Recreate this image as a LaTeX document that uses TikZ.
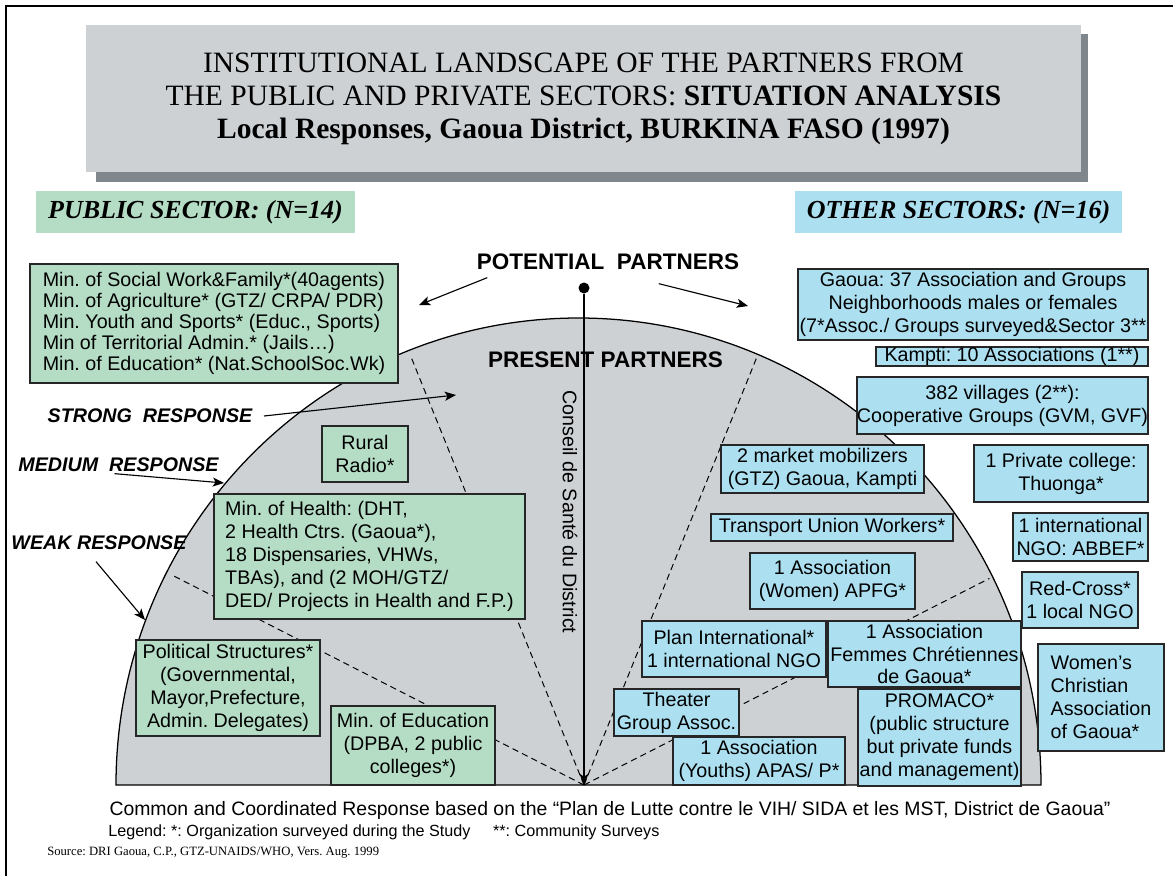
\documentclass[tikz,border=0pt]{standalone}
\usepackage{fontspec}
\setmainfont{Liberation Sans}
\newfontfamily\seriffont{Liberation Serif}
\usetikzlibrary{arrows.meta}
\frenchspacing
\newcommand{\px}{0.025cm}
\definecolor{panelgray}{HTML}{CDD1D4}
\definecolor{shadowgray}{HTML}{80878C}
\definecolor{publicgreen}{HTML}{B5DDC5}
\definecolor{otherblue}{HTML}{ACE0F1}
\tikzset{%
    pubbox/.style={inner sep=0pt,outer sep=0pt,shape=rectangle,draw=black!85,line width=0.9pt,fill=publicgreen,align=center,font=\fontsize{14}{16.3}\selectfont},
    othbox/.style={pubbox,fill=otherblue},
    sector/.style={inner sep=0pt,outer sep=0pt,shape=rectangle,font=\seriffont\fontsize{18.5}{20}\selectfont\bfseries\itshape},
    response/.style={inner sep=1pt,font=\fontsize{14}{16}\selectfont\bfseries\itshape},
    partners/.style={inner sep=1pt,font=\fontsize{16}{18}\selectfont\bfseries},
    divider/.style={dashed,line width=0.7pt,dash pattern=on 4.5pt off 3pt},
    pointer/.style={->,line width=0.8pt},
}

\begin{document}
\begin{tikzpicture}[x=\px,y=-\px,>={Stealth[length=8pt,width=6.5pt,inset=2pt]}]
        \useasboundingbox (0,0) rectangle (1173,876);
        \draw[line width=1.4pt] (6,876) -- (6,6) -- (1173,6);

        % title panel
        \fill[shadowgray] (96,34) rectangle (1088,182);
        \node[fill=panelgray,inner sep=0pt,minimum width=995*\px,minimum height=147*\px,align=center,
              font=\seriffont\fontsize{21}{23.5}\selectfont] (title) at (583.5,98.5)
              {INSTITUTIONAL LANDSCAPE OF THE PARTNERS FROM\\
               THE PUBLIC AND PRIVATE SECTORS: \textbf{SITUATION ANALYSIS}\\
               \textbf{Local Responses, Gaoua District, BURKINA FASO (1997)}};

        \node[sector,fill=publicgreen,minimum width=319*\px,minimum height=42*\px] (public) at (195.5,212) {PUBLIC SECTOR: (N=14)};
        \node[sector,fill=otherblue,minimum width=327*\px,minimum height=42*\px] (other) at (958.5,212) {OTHER SECTORS: (N=16)};

        % dome of present partners
        \coordinate (base) at (584,785);
        \filldraw[fill=panelgray,line width=0.9pt] (116,785) arc[start angle=180,end angle=0,x radius=462.5*\px,y radius=467*\px] -- cycle;
        \draw[divider] (base) -- ++(27:455*\px);
        \draw[divider] (base) -- ++(68:462*\px);
        \draw[divider] (base) -- ++(112:462*\px);
        \draw[divider] (base) -- ++(153:462*\px);

        \node[partners] (potential) at (608,262) {POTENTIAL\ \ PARTNERS};
        \node[partners] (present) at (605.5,360) {PRESENT PARTNERS};
        \node[circle,fill,inner sep=0pt,minimum size=11*\px] (dot) at (584,288) {};
        \draw[->,line width=0.9pt] (dot) -- (base);
        \node[rotate=-90,inner sep=0pt,font=\fontsize{14}{16}\selectfont] (conseil) at (570,512) {Conseil de Santé du District};

        \coordinate (potleft) at (419,305);
        \coordinate (potright) at (748,306);
        \draw[pointer] ([shift={(12,6)}]potential.south west) -- (potleft);
        \draw[pointer] ([shift={(-82,12)}]potential.south east) -- (potright);

        \node[response] (strong) at (150,416) {STRONG\ \ RESPONSE};
        \node[response] (medium) at (118.5,465) {MEDIUM\ \ RESPONSE};
        \node[response] (weak) at (99,543) {WEAK RESPONSE};
        \coordinate (strongtip) at (456,395);
        \coordinate (mediumtip) at (224,483);
        \coordinate (weaktip) at (145,620);
        \draw[pointer] ([xshift=10*\px]strong.east) -- (strongtip);
        \draw[pointer] ([xshift=-4*\px]medium.south) -- (mediumtip);
        \draw[pointer] ([shift={(-3,10)}]weak.south) -- (weaktip);

        % public sector
        \node[pubbox,align=left,font=\fontsize{14}{15}\selectfont,minimum width=368*\px,minimum height=119*\px] (socwork) at (214,323.5)
              {Min. of Social Work\&Family*(40agents)\\Min. of Agriculture* (GTZ/ CRPA/ PDR)\\Min. Youth and Sports* (Educ., Sports)\\Min of Territorial Admin.* (Jails…)\\Min. of Education* (Nat.SchoolSoc.Wk)};
        \node[pubbox,minimum width=86*\px,minimum height=56*\px] (radio) at (365,454) {Rural\\Radio*};
        \node[pubbox,align=left,minimum width=311*\px,minimum height=125*\px] (health) at (369.5,556.5)
              {Min. of Health: (DHT,\\2 Health Ctrs. (Gaoua*),\\18 Dispensaries, VHWs,\\TBAs), and (2 MOH/GTZ/\\DED/ Projects in Health and F.P.)};
        \node[pubbox,minimum width=184*\px,minimum height=96*\px] (politic) at (228,688) {Political Structures*\\(Governmental,\\Mayor,Prefecture,\\Admin. Delegates)};
        \node[pubbox,minimum width=164*\px,minimum height=79*\px] (educ) at (413,745.5) {Min. of Education\\(DPBA, 2 public\\colleges*)};

        % other sectors
        \node[othbox,minimum width=350*\px,minimum height=71*\px] (gaoua) at (973,304.5) {Gaoua: 37 Association and Groups\\Neighborhoods males or females\\(7*Assoc./ Groups surveyed\&Sector 3**};
        \node[othbox,minimum width=272*\px,minimum height=19*\px] (kampti) at (1012,356.5) {Kampti: 10 Associations (1**)};
        \node[othbox,minimum width=291*\px,minimum height=57*\px] (villages) at (1002.5,405.5) {382 villages (2**):\\Cooperative Groups (GVM, GVF)};
        \node[othbox,minimum width=203*\px,minimum height=48*\px] (market) at (822.5,469) {2 market mobilizers\\(GTZ) Gaoua, Kampti};
        \node[othbox,minimum width=174*\px,minimum height=57*\px] (private) at (1061,473.5) {1 Private college:\\Thuonga*};
        \node[othbox,minimum width=242*\px,minimum height=27*\px] (transport) at (832,527.5) {Transport Union Workers*};
        \node[othbox,minimum width=135*\px,minimum height=48*\px] (abbef) at (1080.5,537) {1 international\\NGO: ABBEF*};
        \node[othbox,minimum width=165*\px,minimum height=56*\px] (apfg) at (832.5,581) {1 Association\\(Women) APFG*};
        \node[othbox,minimum width=116*\px,minimum height=56*\px] (redcross) at (1080,600) {Red-Cross*\\1 local NGO};
        \node[othbox,minimum width=184*\px,minimum height=56*\px] (plan) at (734,649) {Plan International*\\1 international NGO};
        \node[othbox,minimum width=193*\px,minimum height=66*\px] (femmes) at (924.5,654) {1 Association\\Femmes Chrétiennes\\de Gaoua*};
        \node[othbox,align=left,minimum width=126*\px,minimum height=107*\px] (womens) at (1101,697.5) {Women’s\\Christian\\Association\\of Gaoua*};
        \node[othbox,minimum width=125*\px,minimum height=47*\px] (theater) at (676.5,712.5) {Theater\\Group Assoc.};
        \node[othbox,minimum width=163*\px,minimum height=97*\px] (promaco) at (939.5,737.5) {PROMACO*\\(public structure\\but private funds\\and management)};
        \node[othbox,minimum width=172*\px,minimum height=48*\px] (youths) at (759,761) {1 Association\\(Youths) APAS/ P*};

        % notes
        \node[inner sep=0pt,font=\fontsize{13.8}{16}\selectfont] (common) at (610,810) {Common and Coordinated Response based on the “Plan de Lutte contre le VIH/ SIDA et les MST, District de Gaoua”};
        \node[inner sep=0pt,anchor=west,font=\fontsize{11.5}{14}\selectfont] (legend) at (108,832) {Legend: *: Organization surveyed during the Study\hspace{1.4em}**: Community Surveys};
        \node[inner sep=0pt,anchor=west,font=\seriffont\fontsize{9}{11}\selectfont] (source) at (47,853) {Source: DRI Gaoua, C.P., GTZ-UNAIDS/WHO, Vers. Aug. 1999};
      \end{tikzpicture}
\end{document}
